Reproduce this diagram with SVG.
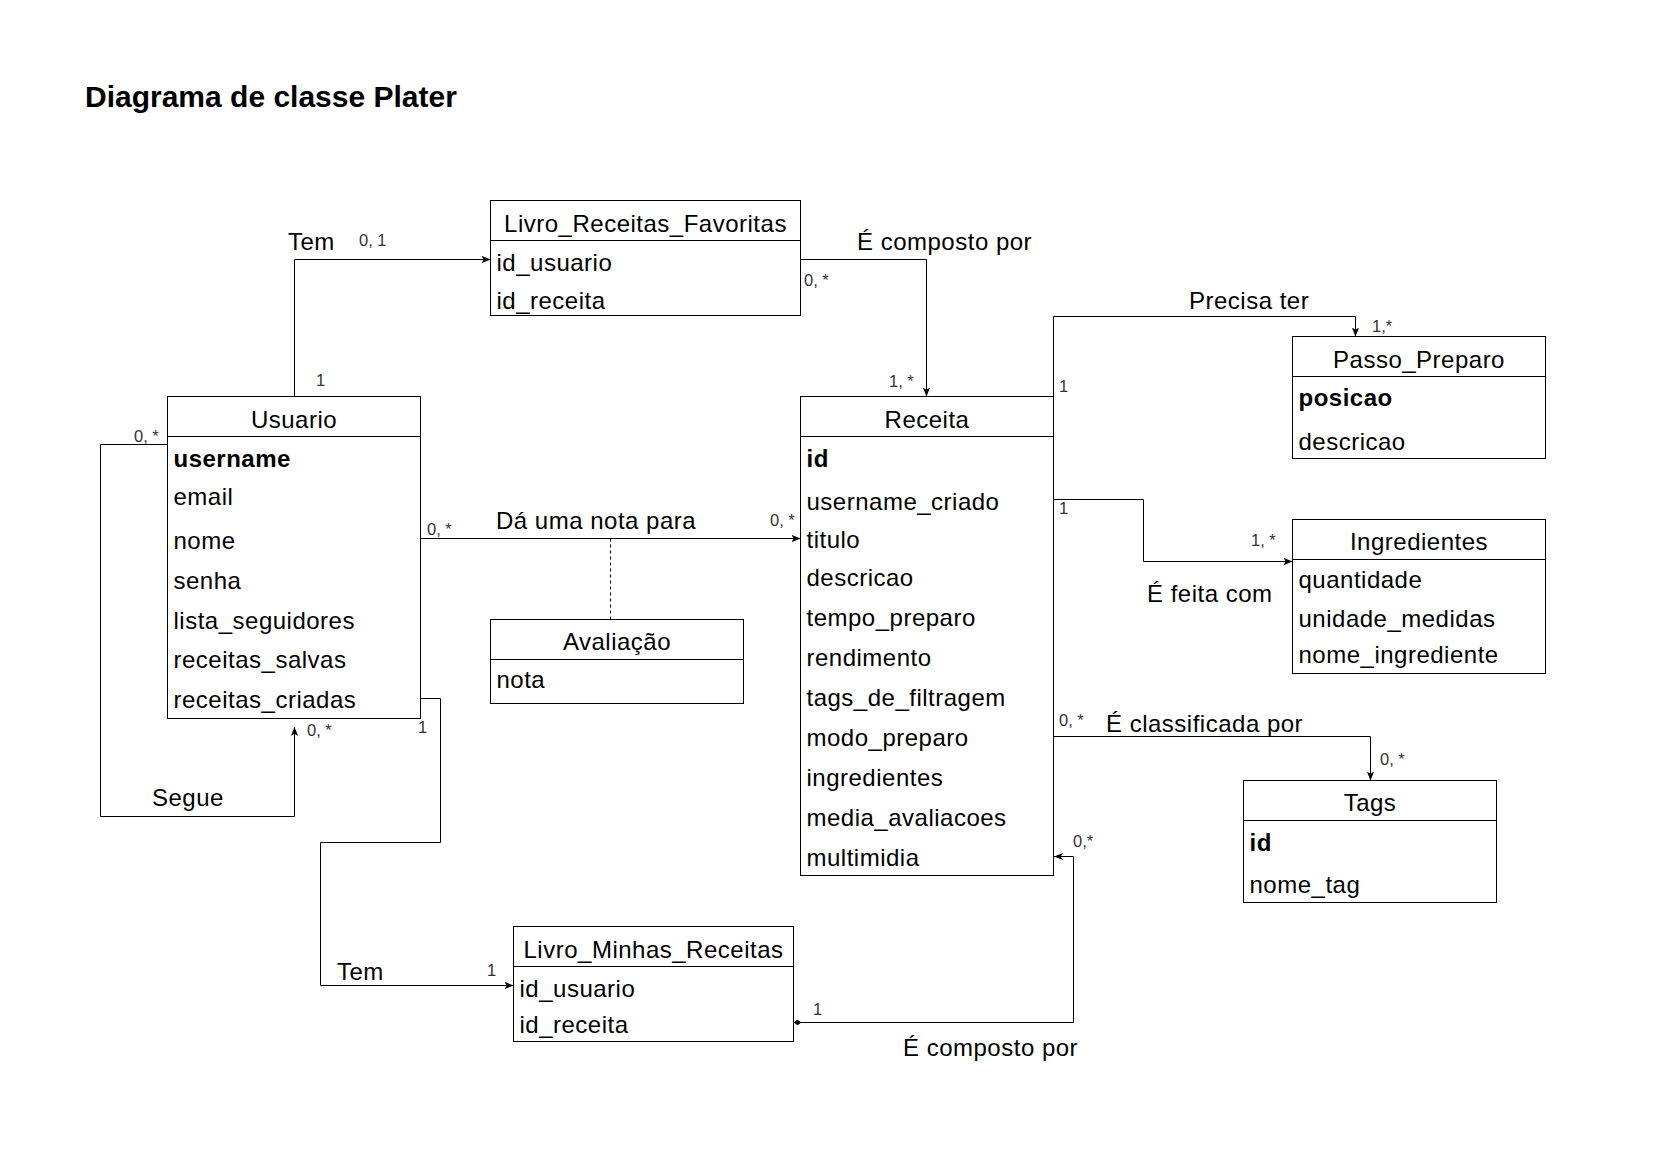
<svg xmlns="http://www.w3.org/2000/svg" width="1654" height="1169" viewBox="0 0 1654 1169">
<style>
.box{fill:#fff;stroke:#000;stroke-width:1}
.t{font-family:"Liberation Sans",Arial,Helvetica,sans-serif;font-size:24px;letter-spacing:0.5px;fill:#000}
.h{text-anchor:middle}
.b{font-weight:bold}
.s{font-family:"Liberation Sans",Arial,Helvetica,sans-serif;font-size:16.5px;fill:#333}
.ln{fill:none;stroke:#000;stroke-width:1}
.arr{marker-end:url(#arrow)}
.dash{stroke-dasharray:3,3}
</style>
<defs>
<marker id="arrow" viewBox="0 0 10 10" refX="10" refY="5" markerWidth="9" markerHeight="9" orient="auto" markerUnits="userSpaceOnUse">
<path d="M0,1 L10,5 L0,9 L2.5,5 z" fill="#000"/>
</marker>
<marker id="diamond" viewBox="0 0 10 8" refX="0" refY="4" markerWidth="8" markerHeight="6.4" orient="auto" markerUnits="userSpaceOnUse">
<path d="M0,4 L5,0.5 L10,4 L5,7.5 z" fill="#000"/>
</marker>
</defs>
<rect width="1654" height="1169" fill="#fff"/>
<text class="t b" x="85" y="107" style="font-size:30px;letter-spacing:0">Diagrama de classe Plater</text>

<g id="connectors">
<path class="ln arr" d="M294.5,396.5 V259.5 H490.5"/>
<path class="ln arr" d="M800.5,259.5 H926.5 V396.5"/>
<path class="ln arr" d="M1053.5,396.5 V316.5 H1355.5 V336.5"/>
<path class="ln arr" d="M1053.5,499.5 H1143.5 V561.5 H1292.5"/>
<path class="ln arr" d="M1053.5,736.5 H1370.5 V780.5"/>
<path class="ln arr" d="M420.5,538.5 H800.5"/>
<path class="ln dash" d="M610.5,538.5 V619.5"/>
<path class="ln arr" d="M167.5,444.5 H100.5 V816.5 H294.5 V727"/>
<path class="ln arr" d="M420.5,698.5 H440.5 V842.5 H320.5 V985.5 H513.5"/>
<path class="ln arr" d="M793.5,1022.5 H1073.5 V856.5 H1054" marker-start="url(#diamond)"/>
<text class="t" x="288" y="250">Tem</text>
<text class="s" x="359" y="246">0, 1</text>
<text class="s" x="316" y="386">1</text>
<text class="t" x="857" y="250">É composto por</text>
<text class="s" x="804" y="286">0, *</text>
<text class="s" x="889" y="387">1, *</text>
<text class="t" x="1189" y="309">Precisa ter</text>
<text class="s" x="1059" y="392">1</text>
<text class="s" x="1372" y="332">1,*</text>
<text class="s" x="1059" y="514">1</text>
<text class="s" x="1251" y="546">1, *</text>
<text class="t" x="1147" y="602">É feita com</text>
<text class="s" x="1059" y="726">0, *</text>
<text class="t" x="1106" y="732">É classificada por</text>
<text class="s" x="1380" y="765">0, *</text>
<text class="t" x="496" y="529">Dá uma nota para</text>
<text class="s" x="427" y="535">0, *</text>
<text class="s" x="770" y="526">0, *</text>
<text class="s" x="134" y="442">0, *</text>
<text class="s" x="307" y="736">0, *</text>
<text class="t" x="152" y="806">Segue</text>
<text class="s" x="418" y="733">1</text>
<text class="t" x="337" y="980">Tem</text>
<text class="s" x="487" y="976">1</text>
<text class="s" x="1073" y="847">0,*</text>
<text class="s" x="813" y="1015">1</text>
<text class="t" x="903" y="1056">É composto por</text>
</g>

<g id="livro-receitas-favoritas">
<rect class="box" x="490.5" y="200.5" width="310" height="115"/>
<path class="ln" d="M490.5,240.5 H800.5"/>
<text class="t h" x="645.5" y="231.5">Livro_Receitas_Favoritas</text>
<text class="t" x="496.5" y="271">id_usuario</text>
<text class="t" x="496.5" y="309">id_receita</text>
</g>

<g id="usuario">
<rect class="box" x="167.5" y="396.5" width="253" height="322"/>
<path class="ln" d="M167.5,436.5 H420.5"/>
<text class="t h" x="294" y="427.5">Usuario</text>
<text class="t b" x="173.5" y="467">username</text>
<text class="t" x="173.5" y="505">email</text>
<text class="t" x="173.5" y="549">nome</text>
<text class="t" x="173.5" y="589">senha</text>
<text class="t" x="173.5" y="629">lista_seguidores</text>
<text class="t" x="173.5" y="668">receitas_salvas</text>
<text class="t" x="173.5" y="708">receitas_criadas</text>
</g>

<g id="receita">
<rect class="box" x="800.5" y="396.5" width="253" height="479"/>
<path class="ln" d="M800.5,436.5 H1053.5"/>
<text class="t h" x="927" y="427.5">Receita</text>
<text class="t b" x="806.5" y="467">id</text>
<text class="t" x="806.5" y="510">username_criado</text>
<text class="t" x="806.5" y="548">titulo</text>
<text class="t" x="806.5" y="586">descricao</text>
<text class="t" x="806.5" y="626">tempo_preparo</text>
<text class="t" x="806.5" y="666">rendimento</text>
<text class="t" x="806.5" y="706">tags_de_filtragem</text>
<text class="t" x="806.5" y="746">modo_preparo</text>
<text class="t" x="806.5" y="786">ingredientes</text>
<text class="t" x="806.5" y="826">media_avaliacoes</text>
<text class="t" x="806.5" y="866">multimidia</text>
</g>

<g id="passo-preparo">
<rect class="box" x="1292.5" y="336.5" width="253" height="122"/>
<path class="ln" d="M1292.5,376.5 H1545.5"/>
<text class="t h" x="1419" y="367.5">Passo_Preparo</text>
<text class="t b" x="1298.5" y="406">posicao</text>
<text class="t" x="1298.5" y="450">descricao</text>
</g>

<g id="ingredientes">
<rect class="box" x="1292.5" y="519.5" width="253" height="154"/>
<path class="ln" d="M1292.5,559.5 H1545.5"/>
<text class="t h" x="1419" y="550">Ingredientes</text>
<text class="t" x="1298.5" y="588">quantidade</text>
<text class="t" x="1298.5" y="627">unidade_medidas</text>
<text class="t" x="1298.5" y="663">nome_ingrediente</text>
</g>

<g id="avaliacao">
<rect class="box" x="490.5" y="619.5" width="253" height="84"/>
<path class="ln" d="M490.5,659.5 H743.5"/>
<text class="t h" x="617" y="650">Avaliação</text>
<text class="t" x="496.5" y="688">nota</text>
</g>

<g id="tags">
<rect class="box" x="1243.5" y="780.5" width="253" height="122"/>
<path class="ln" d="M1243.5,820.5 H1496.5"/>
<text class="t h" x="1370" y="811">Tags</text>
<text class="t b" x="1249.5" y="851">id</text>
<text class="t" x="1249.5" y="893">nome_tag</text>
</g>

<g id="livro-minhas-receitas">
<rect class="box" x="513.5" y="926.5" width="280" height="115"/>
<path class="ln" d="M513.5,966.5 H793.5"/>
<text class="t h" x="653.5" y="957.5">Livro_Minhas_Receitas</text>
<text class="t" x="519.5" y="997">id_usuario</text>
<text class="t" x="519.5" y="1033">id_receita</text>
</g>
</svg>
